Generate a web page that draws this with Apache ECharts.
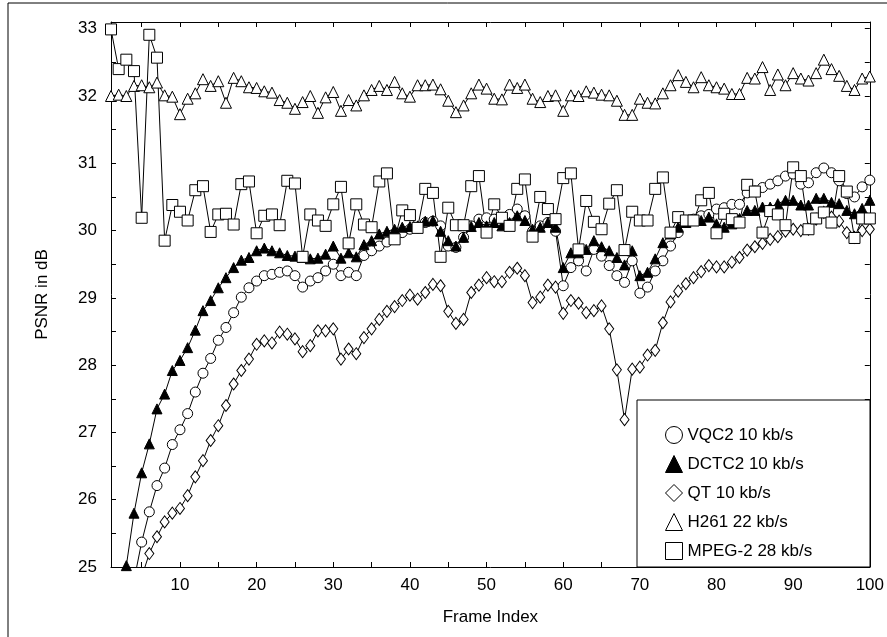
<!DOCTYPE html>
<html>
<head>
<meta charset="utf-8">
<title>PSNR per frame</title>
<script src="https://cdn.jsdelivr.net/npm/echarts@6/dist/echarts.min.js"></script>
<style>
  html, body { margin: 0; padding: 0; background: #fff; }
  #chart { width: 887px; height: 637px; }
</style>
</head>
<body>
<div id="chart"></div>
<script>
// frame numbers 1..100
const frames = Array.from({ length: 100 }, (_, i) => i + 1)

const vqc2 = [
  null, null, null, 24.8, 25.37, 25.82, 26.21, 26.47, 26.82, 27.04,
  27.28, 27.6, 27.88, 28.1, 28.37, 28.56, 28.78, 29.01, 29.15, 29.25,
  29.33, 29.35, 29.38, 29.4, 29.33, 29.16, 29.25, 29.3, 29.4, 29.5,
  29.33, 29.38, 29.33, 29.63, 29.7, 29.77, 29.83, 29.92, 29.97, 30.02,
  30.04, 30.12, 30.14, 30.07, 29.77, 29.75, 29.9, 30.07, 30.17, 30.19,
  30.17, 30.12, 30.24, 30.32, 30.22, 29.99, 30.07, 30.12, 29.99, 29.18,
  29.45, 29.55, 29.4, 29.72, 29.62, 29.48, 29.33, 29.23, 29.55, 29.07,
  29.16, 29.4, 29.55, 29.77, 29.97, 30.12, 30.17, 30.22, 30.24, 30.32,
  30.34, 30.39, 30.39, 30.56, 30.59, 30.64, 30.69, 30.74, 30.81, 30.84,
  30.69, 30.71, 30.86, 30.93, 30.86, 30.74, 30.55, 30.5, 30.65, 30.75
]

const dctc2 = [
  null, 24.3, 25.02, 25.8, 26.4, 26.83, 27.35, 27.57, 27.92, 28.07,
  28.26, 28.52, 28.81, 28.96, 29.15, 29.3, 29.45, 29.56, 29.6, 29.7,
  29.74, 29.7, 29.67, 29.63, 29.62, 29.6, 29.58, 29.59, 29.65, 29.77,
  29.59, 29.67, 29.61, 29.79, 29.85, 29.95, 29.99, 30.02, 30.05, 30.06,
  30.07, 30.14, 30.15, 29.99, 29.85, 29.77, 29.9, 30.06, 30.12, 30.07,
  30.12, 30.07, 30.12, 30.22, 30.15, 30.02, 30.05, 30.12, 30.05, 29.45,
  29.67, 29.67, 29.72, 29.85, 29.76, 29.7, 29.6, 29.49, 29.7, 29.33,
  29.38, 29.58, 29.82, 29.95, 30.05, 30.12, 30.15, 30.15, 30.2, 30.1,
  30.05, 30.1, 30.18, 30.3, 30.3, 30.35, 30.35, 30.4, 30.45, 30.45,
  30.38, 30.38, 30.48, 30.48, 30.42, 30.4, 30.3, 30.25, 30.33, 30.45
]

const qt = [
  null, null, null, null, 24.85, 25.2, 25.45, 25.67, 25.8, 25.87,
  26.06, 26.34, 26.58, 26.88, 27.1, 27.4, 27.72, 27.92, 28.09, 28.31,
  28.36, 28.33, 28.49, 28.46, 28.39, 28.2, 28.29, 28.51, 28.51, 28.54,
  28.09, 28.24, 28.17, 28.41, 28.54, 28.68, 28.8, 28.87, 28.96, 29.04,
  28.98, 29.08, 29.2, 29.18, 28.8, 28.62, 28.68, 29.08, 29.19, 29.3,
  29.24, 29.24, 29.38, 29.44, 29.33, 28.93, 29.01, 29.19, 29.16, 28.77,
  28.96, 28.92, 28.78, 28.81, 28.88, 28.54, 27.93, 27.19, 27.94, 27.97,
  28.15, 28.22, 28.63, 28.94, 29.1, 29.21, 29.3, 29.39, 29.48, 29.46,
  29.46, 29.53, 29.6, 29.71, 29.76, 29.81, 29.87, 29.91, 29.99, 30.02,
  30.0, 30.02, 30.17, 30.27, 30.2, 30.14, 29.97, 29.9, 30.0, 30.02
]

const h261 = [
  32.0, 32.02, 32.0, 32.15, 32.16, 32.13, 32.2, 32.01, 31.99, 31.73,
  31.96, 32.04, 32.25, 32.15, 32.22, 31.9, 32.27, 32.22, 32.13, 32.12,
  32.07, 32.05, 31.94, 31.9, 31.81, 31.91, 32.0, 31.75, 31.98, 32.06,
  31.78, 31.94, 31.86, 32.01, 32.09, 32.15, 32.09, 32.21, 32.04, 31.99,
  32.16, 32.16, 32.17, 32.1, 31.93, 31.76, 31.86, 32.04, 32.17, 32.11,
  31.96, 31.95, 32.17, 32.12, 32.17, 31.96, 31.91, 32.0, 32.01, 31.78,
  32.01, 32.0, 32.07, 32.05, 32.02, 32.01, 31.93, 31.72, 31.72, 31.96,
  31.9, 31.89, 32.04, 32.16, 32.31, 32.21, 32.13, 32.28, 32.16, 32.13,
  32.11, 32.03, 32.03, 32.27, 32.26, 32.43, 32.09, 32.32, 32.16, 32.34,
  32.26, 32.23, 32.34, 32.54, 32.4, 32.3, 32.15, 32.09, 32.26, 32.29
]

const mpeg2 = [
  32.99, 32.4, 32.54, 32.37, 30.19, 32.91, 32.57, 29.85, 30.38, 30.28,
  30.15, 30.6, 30.66, 29.98, 30.24, 30.25, 30.09, 30.69, 30.73, 29.96,
  30.22, 30.24, 30.08, 30.74, 30.7, 29.61, 30.24, 30.15, 30.07, 30.39,
  30.65, 29.81, 30.39, 30.09, 30.05, 30.73, 30.85, 29.87, 30.3, 30.23,
  30.04, 30.62, 30.56, 29.61, 30.34, 30.08, 30.08, 30.66, 30.81, 29.97,
  30.39, 30.19, 30.07, 30.62, 30.76, 29.91, 30.5, 30.32, 30.17, 30.78,
  30.85, 29.72, 30.44, 30.13, 30.02, 30.4, 30.6, 29.71, 30.28, 30.15,
  30.15, 30.62, 30.79, 29.97, 30.2, 30.15, 30.15, 30.45, 30.56, 29.96,
  30.25, 30.17, 30.12, 30.68, 30.58, 29.97, 30.29, 30.24, 30.08, 30.94,
  30.81, 30.02, 30.18, 30.27, 30.12, 30.81, 30.58, 29.89, 30.18, 30.18
]

const xTicks = [5, 10, 15, 20, 25, 30, 35, 40, 45, 50, 55, 60, 65, 70, 75, 80, 85, 90, 95, 100]
const xLabels = [10, 20, 30, 40, 50, 60, 70, 80, 90, 100]
const yTicks = [25, 25.5, 26, 26.5, 27, 27.5, 28, 28.5, 29, 29.5, 30, 30.5, 31, 31.5, 32, 32.5, 33]
const yLabels = [25, 26, 27, 28, 29, 30, 31, 32, 33]

const names = ['VQC2 10 kb/s', 'DCTC2 10 kb/s', 'QT 10 kb/s', 'H261 22 kb/s', 'MPEG-2 28 kb/s']

const FONT = '"Liberation Sans", Arial, Helvetica, sans-serif'

function pairs(values) {
  return frames.map((f, i) => [f, values[i]])
}

function makeSeries(name, values, symbol, size, fill) {
  return {
    name: name,
    type: 'line',
    data: pairs(values),
    symbol: symbol,
    symbolSize: size,
    showAllSymbol: true,
    connectNulls: false,
    lineStyle: { color: '#000', width: 1 },
    itemStyle: { color: fill, borderColor: '#000', borderWidth: 1 },
    emphasis: { disabled: true },
    animation: false
  }
}

const myChart = echarts.init(document.getElementById('chart'), null, { renderer: 'canvas' })

const axisCommon = {
  type: 'value',
  axisLine: { show: true, lineStyle: { color: '#000', width: 1 } },
  splitLine: { show: false }
}

const option = {
  backgroundColor: '#fff',
  animation: false,
  textStyle: { fontFamily: FONT, color: '#000' },
  grid: { left: 111, right: 17, top: 22, bottom: 70 },
  xAxis: [
    Object.assign({}, axisCommon, {
      min: 1, max: 100,
      position: 'bottom',
      name: 'Frame Index',
      nameLocation: 'middle',
      nameGap: 42,
      nameTextStyle: { fontSize: 17, fontFamily: FONT, color: '#000' },
      axisTick: { inside: true, length: 5, lineStyle: { color: '#000' }, customValues: xTicks },
      axisLabel: { fontSize: 17, fontFamily: FONT, color: '#000', margin: 10, customValues: xLabels }
    }),
    Object.assign({}, axisCommon, {
      min: 1, max: 100,
      position: 'top',
      axisTick: { inside: true, length: 5, lineStyle: { color: '#000' }, customValues: xTicks },
      axisLabel: { show: false }
    })
  ],
  yAxis: [
    Object.assign({}, axisCommon, {
      min: 25, max: 33.1,
      position: 'left',
      name: 'PSNR in dB',
      nameLocation: 'middle',
      nameGap: 60,
      nameRotate: 90,
      nameTextStyle: { fontSize: 17, fontFamily: FONT, color: '#000' },
      axisTick: { inside: true, length: 5, lineStyle: { color: '#000' }, customValues: yTicks },
      axisLabel: { fontSize: 17, fontFamily: FONT, color: '#000', margin: 14, customValues: yLabels }
    }),
    Object.assign({}, axisCommon, {
      min: 25, max: 33.1,
      position: 'right',
      axisTick: { inside: true, length: 5, lineStyle: { color: '#000' }, customValues: yTicks },
      axisLabel: { show: false }
    })
  ],
  legend: {
    orient: 'vertical',
    left: 660,
    top: 421,
    z: 10,
    itemWidth: 17,
    itemHeight: 17,
    itemGap: 11,
    selectedMode: false,
    textStyle: { fontSize: 17, fontFamily: FONT, color: '#000' },
    data: [
      { name: names[0], icon: 'circle', itemStyle: { color: '#fff', borderColor: '#000', borderWidth: 1 } },
      { name: names[1], icon: 'triangle', itemStyle: { color: '#000', borderColor: '#000', borderWidth: 1 } },
      { name: names[2], icon: 'diamond', itemStyle: { color: '#fff', borderColor: '#000', borderWidth: 1 } },
      { name: names[3], icon: 'triangle', itemStyle: { color: '#fff', borderColor: '#000', borderWidth: 1 } },
      { name: names[4], icon: 'rect', itemStyle: { color: '#fff', borderColor: '#000', borderWidth: 1 } }
    ]
  },
  graphic: [
    // legend frame sharing the plot's right and bottom border
    { type: 'rect', z: 5, shape: { x: 637, y: 400, width: 233, height: 167 },
      style: { fill: '#fff', stroke: '#000', lineWidth: 1 } },
    // page frame lines of the scan
    { type: 'line', z: 5, shape: { x1: 8, y1: 3, x2: 887, y2: 3 }, style: { stroke: '#000', lineWidth: 1 } },
    { type: 'line', z: 5, shape: { x1: 8, y1: 3, x2: 8, y2: 637 }, style: { stroke: '#000', lineWidth: 1 } }
  ],
  series: [
    makeSeries(names[2], qt, 'diamond', [9, 12], '#fff'),
    makeSeries(names[0], vqc2, 'circle', 10, '#fff'),
    makeSeries(names[1], dctc2, 'triangle', 10, '#000'),
    makeSeries(names[3], h261, 'triangle', 11, '#fff'),
    makeSeries(names[4], mpeg2, 'rect', 11, '#fff')
  ]
}

myChart.setOption(option)

window.addEventListener('resize', function () {
  myChart.resize()
})
</script>
</body>
</html>
